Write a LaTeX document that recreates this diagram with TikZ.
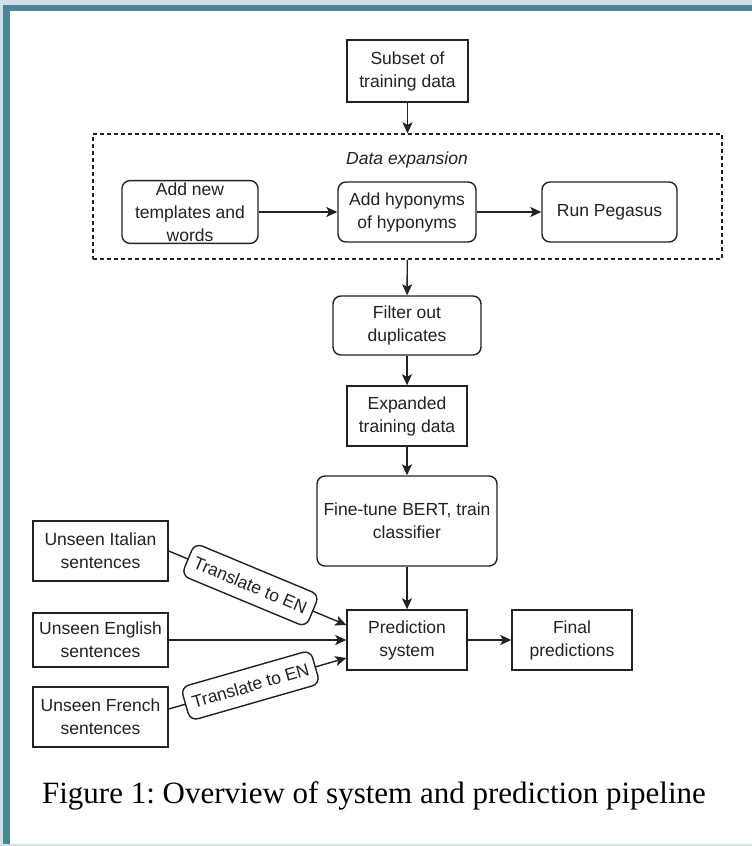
\documentclass[tikz,border=0pt]{standalone}
\usepackage{fontspec}
\setmainfont{Liberation Serif}
\newfontfamily\arialf{Liberation Sans}
\usetikzlibrary{arrows.meta,calc}
\definecolor{framelight}{HTML}{D0E0E6}
\definecolor{frameteal}{HTML}{4B8596}
\definecolor{ink}{HTML}{222222}
\frenchspacing
\tikzset{
  stdline/.style={line width=1.4pt, draw=ink},
  boxn/.style={stdline, rectangle, align=center, text=ink, inner sep=2pt,
    font=\arialf\fontsize{17.5}{23}\selectfont},
  rboxn/.style={boxn, rounded corners=8pt},
  arr/.style={stdline, -{Stealth[length=11pt,width=10pt,inset=2.5pt]}},
  lbl/.style={rboxn, fill=white, sloped, inner xsep=7pt, inner ysep=11pt},
}
\begin{document}
\begin{tikzpicture}[x=1pt,y=-1pt]
\useasboundingbox (0,0) rectangle (752,846);
\fill[framelight] (0,0) rectangle (752,846);
\fill[frameteal] (3,5) rectangle (752,844);
\fill[white] (10,11) rectangle (752,844);

\node[boxn, minimum width=121pt, minimum height=62pt] (sub) at (407.5,71) {Subset of\\training data};
\node[stdline, dash pattern=on 4pt off 3pt, line width=1.2pt, minimum width=629pt, minimum height=125pt] (exp) at (407.5,196.5) {};
\node[font=\arialf\itshape\fontsize{17.5}{23}\selectfont, text=ink] (exptitle) at (407,160) {Data expansion};
\node[rboxn, minimum width=136pt, minimum height=60pt] (a) at (190,212) {Add new\\templates and\\words};
\node[rboxn, minimum width=138pt, minimum height=60pt] (b) at (407,212) {Add hyponyms\\of hyponyms};
\node[rboxn, minimum width=135pt, minimum height=60pt] (c) at (609.5,212) {Run Pegasus};
\node[rboxn, minimum width=148pt, minimum height=59pt] (filt) at (407,325.5) {Filter out\\duplicates};
\node[boxn, minimum width=120pt, minimum height=60pt] (expd) at (407,416) {Expanded\\training data};
\node[rboxn, minimum width=180pt, minimum height=90pt] (ft) at (407,521) {Fine-tune BERT, train\\classifier};
\node[boxn, minimum width=120pt, minimum height=60pt] (pred) at (407,640) {Prediction\\system};
\node[boxn, minimum width=120pt, minimum height=60pt] (final) at (572,640) {Final\\predictions};
\node[boxn, minimum width=135pt, minimum height=60pt] (ita) at (100.5,551) {Unseen Italian\\sentences};
\node[boxn, minimum width=135pt, minimum height=54pt] (eng) at (100.5,640) {Unseen English\\sentences};
\node[boxn, minimum width=135pt, minimum height=60pt] (fr) at (100.5,717) {Unseen French\\sentences};

\draw[arr] (sub) -- (exp);
\draw[arr] (a) -- (b);
\draw[arr] (b) -- (c);
\draw[arr] (exp) -- (filt);
\draw[arr] (filt) -- (expd);
\draw[arr] (expd) -- (ft);
\draw[arr] (ft) -- (pred);
\draw[arr] (pred) -- (final);
\draw[arr] (ita.east) -- node[lbl, pos=0.46] {Translate to EN} ([yshift=15pt]pred.west);
\draw[arr] (eng) -- (pred);
\draw[arr] ([yshift=8pt]fr.east) -- node[lbl, pos=0.46] {Translate to EN} ([yshift=-18pt]pred.west);

\node[anchor=base, font=\fontsize{31}{36}\selectfont, text=black] (cap) at (374,803) {Figure 1: Overview of system and prediction pipeline};
\end{tikzpicture}
\end{document}
